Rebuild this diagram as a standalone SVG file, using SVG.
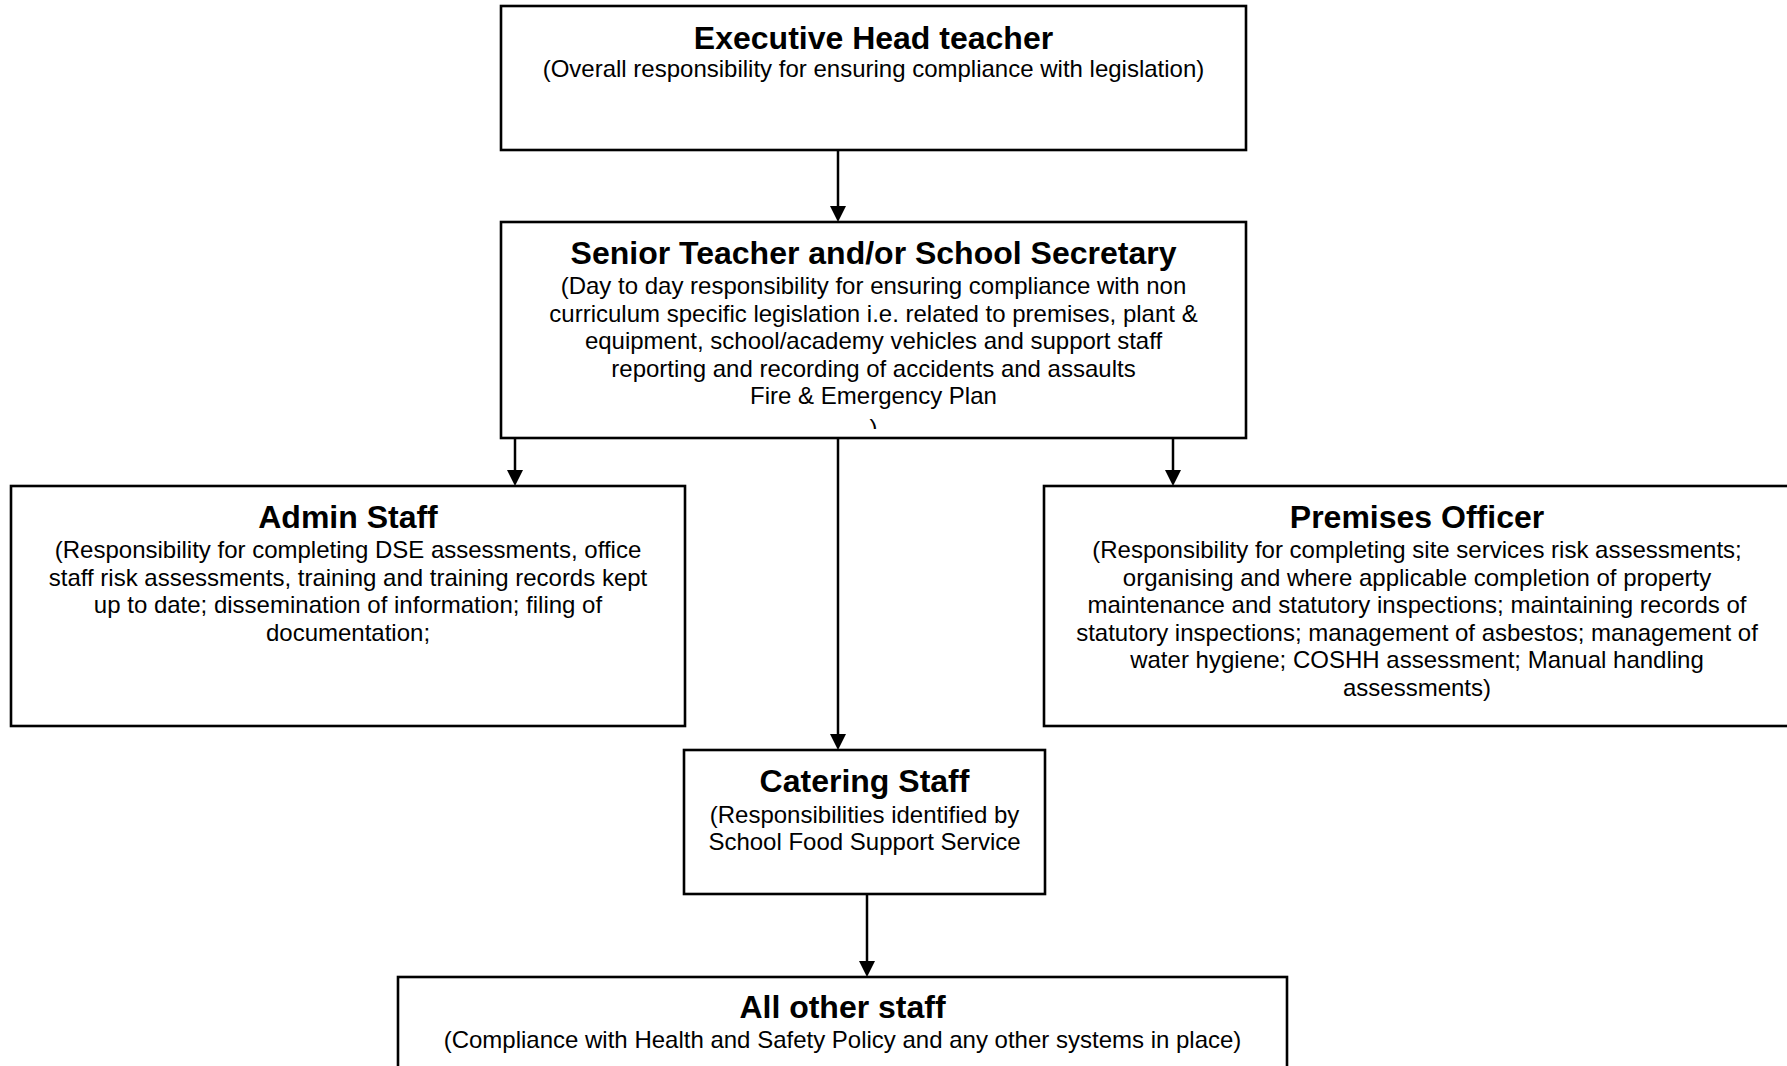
<svg xmlns="http://www.w3.org/2000/svg" width="1787" height="1066" viewBox="0 0 1787 1066">
<style>
  .box { fill: #ffffff; stroke: #000000; stroke-width: 2.6; }
  .title { font-family: "Liberation Sans", Arial, sans-serif; font-weight: bold; font-size: 32px; text-anchor: middle; fill: #000; }
  .body { font-family: "Liberation Sans", Arial, sans-serif; font-size: 24px; text-anchor: middle; fill: #000; }
  .conn { stroke: #000; stroke-width: 2.5; fill: none; }
</style>
<defs>
  <marker id="arr" markerUnits="userSpaceOnUse" markerWidth="17" markerHeight="17" refX="7" refY="8" orient="auto">
    <path d="M0,0 L16,8 L0,16 Z" fill="#000"/>
  </marker>
  <clipPath id="clipParen"><rect x="501" y="400" width="745" height="29"/></clipPath>
</defs>
<rect x="0" y="0" width="1787" height="1066" fill="#ffffff"/>

<g id="connectors">
  <line class="conn" x1="838" y1="150" x2="838" y2="213" marker-end="url(#arr)"/>
  <line class="conn" x1="515" y1="438" x2="515" y2="477" marker-end="url(#arr)"/>
  <line class="conn" x1="838" y1="438" x2="838" y2="741" marker-end="url(#arr)"/>
  <line class="conn" x1="1173" y1="438" x2="1173" y2="477" marker-end="url(#arr)"/>
  <line class="conn" x1="867" y1="894" x2="867" y2="968" marker-end="url(#arr)"/>
</g>

<g id="executive-head">
  <rect class="box" x="501" y="6" width="745" height="144"/>
  <text class="title" x="873.5" y="49">Executive Head teacher</text>
  <text class="body" x="873.5" y="77">(Overall responsibility for ensuring compliance with legislation)</text>
</g>

<g id="senior-teacher">
  <rect class="box" x="501" y="222" width="745" height="216"/>
  <text class="title" x="873.5" y="264">Senior Teacher and/or School Secretary</text>
  <text class="body" x="873.5" y="294">(Day to day responsibility for ensuring compliance with non</text>
  <text class="body" x="873.5" y="321.6">curriculum specific legislation i.e. related to premises, plant &amp;</text>
  <text class="body" x="873.5" y="349.2">equipment, school/academy vehicles and support staff</text>
  <text class="body" x="873.5" y="376.8">reporting and recording of accidents and assaults</text>
  <text class="body" x="873.5" y="404.4">Fire &amp; Emergency Plan</text>
  <text class="body" x="873.5" y="436" clip-path="url(#clipParen)">)</text>
</g>

<g id="admin-staff">
  <rect class="box" x="11" y="486" width="674" height="240"/>
  <text class="title" x="348" y="528">Admin Staff</text>
  <text class="body" x="348" y="558">(Responsibility for completing DSE assessments, office</text>
  <text class="body" x="348" y="585.6">staff risk assessments, training and training records kept</text>
  <text class="body" x="348" y="613.2">up to date; dissemination of information; filing of</text>
  <text class="body" x="348" y="640.8">documentation;</text>
</g>

<g id="premises-officer">
  <rect class="box" x="1044" y="486" width="746" height="240"/>
  <text class="title" x="1417" y="528">Premises Officer</text>
  <text class="body" x="1417" y="558">(Responsibility for completing site services risk assessments;</text>
  <text class="body" x="1417" y="585.6">organising and where applicable completion of property</text>
  <text class="body" x="1417" y="613.2">maintenance and statutory inspections; maintaining records of</text>
  <text class="body" x="1417" y="640.8">statutory inspections; management of asbestos; management of</text>
  <text class="body" x="1417" y="668.4">water hygiene; COSHH assessment; Manual handling</text>
  <text class="body" x="1417" y="696">assessments)</text>
</g>

<g id="catering-staff">
  <rect class="box" x="684" y="750" width="361" height="144"/>
  <text class="title" x="864.5" y="792">Catering Staff</text>
  <text class="body" x="864.5" y="822.5">(Responsibilities identified by</text>
  <text class="body" x="864.5" y="850">School Food Support Service</text>
</g>

<g id="all-other-staff">
  <rect class="box" x="398" y="977" width="889" height="110"/>
  <text class="title" x="842.5" y="1018">All other staff</text>
  <text class="body" x="842.5" y="1047.5">(Compliance with Health and Safety Policy and any other systems in place)</text>
</g>
</svg>
